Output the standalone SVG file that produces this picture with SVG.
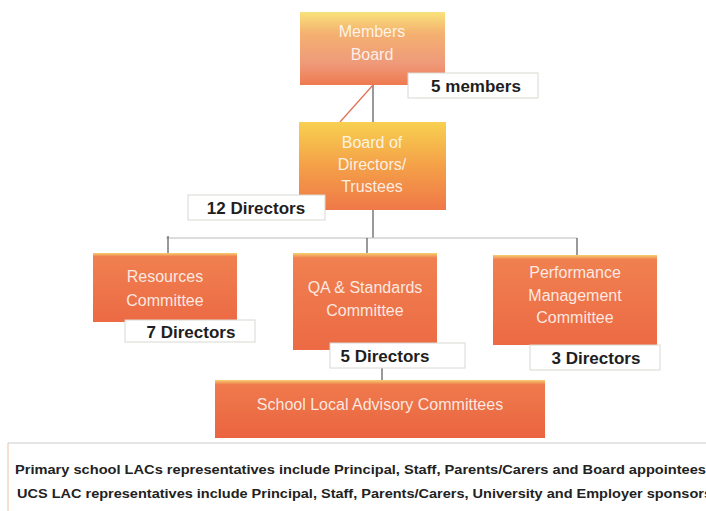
<svg xmlns="http://www.w3.org/2000/svg" width="706" height="511" viewBox="0 0 706 511">
<defs>
<linearGradient id="gMem" x1="0" y1="0" x2="0" y2="1">
<stop offset="0" stop-color="#f9e27a"/>
<stop offset="0.3" stop-color="#f4b070"/>
<stop offset="0.7" stop-color="#ef9a7a"/>
<stop offset="1" stop-color="#ee7a50"/>
</linearGradient>
<linearGradient id="gBod" x1="0" y1="0" x2="0" y2="1">
<stop offset="0" stop-color="#f8d050"/>
<stop offset="0.5" stop-color="#f4a048"/>
<stop offset="1" stop-color="#ef7848"/>
</linearGradient>
<linearGradient id="gCom" x1="0" y1="0" x2="0" y2="1">
<stop offset="0" stop-color="#f5d070"/>
<stop offset="0.05" stop-color="#f08050"/>
<stop offset="1" stop-color="#ec6a44"/>
</linearGradient>
<linearGradient id="gLac" x1="0" y1="0" x2="0" y2="1">
<stop offset="0" stop-color="#f5d070"/>
<stop offset="0.08" stop-color="#ef7a4c"/>
<stop offset="1" stop-color="#ea6440"/>
</linearGradient>
</defs>
<style>
.box{stroke:none}
.bt{font-family:"Liberation Sans",Arial,sans-serif;font-size:16px;fill:#fff;fill-opacity:0.85;text-anchor:middle}
.lbl{fill:#fff;stroke:#d8d8d0;stroke-width:1}
.lt{font-family:"Liberation Sans",Arial,sans-serif;font-size:17px;font-weight:bold;fill:#1e1e1e;text-anchor:middle}
.note{font-family:"Liberation Sans",Arial,sans-serif;font-size:13px;font-weight:bold;fill:#222}
.ln{stroke:#555;stroke-width:1.2;fill:none}
</style>
<rect width="706" height="511" fill="#fff"/>
<g id="connectors">
<line class="ln" x1="373" y1="85" x2="373" y2="122"/>
<line x1="373" y1="85" x2="340" y2="122" stroke="#e07050" stroke-width="1.2"/>
<line class="ln" x1="373" y1="210" x2="373" y2="238"/>
<line x1="166" y1="238" x2="577" y2="238" stroke="#bbb" stroke-width="1"/>
<line class="ln" x1="168" y1="236" x2="168" y2="253"/>
<line class="ln" x1="367" y1="238" x2="367" y2="253"/>
<line class="ln" x1="577" y1="238" x2="577" y2="255"/>
<line class="ln" x1="382" y1="368" x2="382" y2="380"/>
</g>
<g id="members-board">
<rect class="box" x="300" y="12" width="145" height="73" fill="url(#gMem)"/>
<text class="bt" x="372" y="37">Members</text>
<text class="bt" x="372" y="60">Board</text>
</g>
<g id="label-5-members">
<rect class="lbl" x="408" y="73" width="130" height="25"/>
<text class="lt" x="476" y="92">5 members</text>
</g>
<g id="board-of-directors">
<rect class="box" x="299" y="122" width="147" height="88" fill="url(#gBod)"/>
<text class="bt" x="372" y="148">Board of</text>
<text class="bt" x="372" y="170">Directors/</text>
<text class="bt" x="372" y="192">Trustees</text>
</g>
<g id="label-12-directors">
<rect class="lbl" x="188" y="195" width="137" height="25"/>
<text class="lt" x="256" y="214">12 Directors</text>
</g>
<g id="resources-committee">
<rect class="box" x="93" y="253" width="144" height="69" fill="url(#gCom)"/>
<text class="bt" x="165" y="282">Resources</text>
<text class="bt" x="165" y="306">Committee</text>
</g>
<g id="label-7-directors">
<rect class="lbl" x="125" y="320" width="130" height="22"/>
<text class="lt" x="191" y="338">7 Directors</text>
</g>
<g id="qa-committee">
<rect class="box" x="293" y="253" width="144" height="97" fill="url(#gCom)"/>
<text class="bt" x="365" y="293">QA &amp; Standards</text>
<text class="bt" x="365" y="316">Committee</text>
</g>
<g id="label-5-directors">
<rect class="lbl" x="330" y="343" width="135" height="25"/>
<text class="lt" x="385" y="362">5 Directors</text>
</g>
<g id="performance-committee">
<rect class="box" x="493" y="255" width="164" height="90" fill="url(#gCom)"/>
<text class="bt" x="575" y="278">Performance</text>
<text class="bt" x="575" y="301">Management</text>
<text class="bt" x="575" y="323">Committee</text>
</g>
<g id="label-3-directors">
<rect class="lbl" x="530" y="345" width="130" height="25"/>
<text class="lt" x="596" y="364">3 Directors</text>
</g>
<g id="school-lac">
<rect class="box" x="215" y="380" width="330" height="58" fill="url(#gLac)"/>
<text class="bt" x="380" y="410">School Local Advisory Committees</text>
</g>
<g id="note">
<line x1="8" y1="443" x2="706" y2="443" stroke="#ccc" stroke-width="1"/>
<line x1="8" y1="443" x2="8" y2="511" stroke="#f0c0a0" stroke-width="1"/>
<text class="note" x="15" y="474" textLength="691" lengthAdjust="spacingAndGlyphs">Primary school LACs representatives include Principal, Staff, Parents/Carers and Board appointees</text>
<text class="note" x="17" y="498" textLength="695" lengthAdjust="spacingAndGlyphs">UCS LAC representatives include Principal, Staff, Parents/Carers, University and Employer sponsors</text>
</g>
</svg>
